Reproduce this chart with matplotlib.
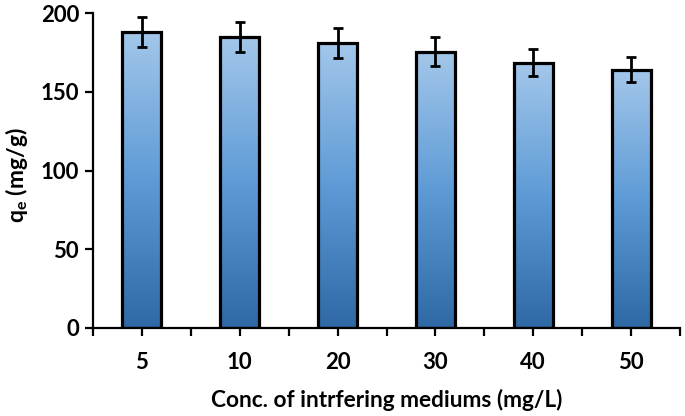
import numpy as np
import matplotlib
matplotlib.use("Agg")
import matplotlib.pyplot as plt
from matplotlib.colors import LinearSegmentedColormap
from matplotlib.ticker import FixedLocator

categories = ["5", "10", "20", "30", "40", "50"]
qe_values = [188, 184.5, 181, 175.5, 168.5, 164]
qe_errors = [9.5, 9.5, 9.5, 9, 8.5, 8]
y_ticks = [0, 50, 100, 150, 200]

plt.rcParams['font.family'] = ['Lato', 'DejaVu Sans']
plt.rcParams['font.weight'] = 'bold'
plt.rcParams['mathtext.fontset'] = 'custom'
plt.rcParams['mathtext.rm'] = 'Lato:bold'
plt.rcParams['mathtext.it'] = 'Lato:bold'
plt.rcParams['mathtext.bf'] = 'Lato:bold'
plt.rcParams['mathtext.default'] = 'rm'

fig = plt.figure(figsize=(6.85, 4.16), dpi=100)
ax = fig.add_axes([93/685, 1 - 328/416, (680 - 93)/685, (328 - 13)/416])

x = np.arange(len(categories))
bars = ax.bar(x, qe_values, width=0.4, facecolor='none', edgecolor='black',
              linewidth=2.3, zorder=3)

cmap = LinearSegmentedColormap.from_list('grad', ['#2e69a5', '#5e9bd6', '#a3c7ea'])
grad = np.linspace(0, 1, 256).reshape(-1, 1)
for b in bars:
    bx, by = b.get_x(), b.get_y()
    w, h = b.get_width(), b.get_height()
    im = ax.imshow(grad, cmap=cmap, origin='lower', aspect='auto',
                   extent=[bx, bx + w, by, by + h], zorder=2, interpolation='bicubic')
    im.set_clip_path(b)

ax.errorbar(x, qe_values, yerr=qe_errors, fmt='none', ecolor='black',
            elinewidth=2.0, capsize=3.3, capthick=2.0, zorder=4)

ax.set_xlim(-0.5, len(categories) - 0.5)
ax.set_ylim(0, 200)
ax.set_yticks(y_ticks)
ax.set_xticks(x)
ax.set_xticklabels(categories)
ax.xaxis.set_minor_locator(FixedLocator(np.arange(-0.5, len(categories), 1.0)))

for s in ['top', 'right']:
    ax.spines[s].set_visible(False)
for s in ['left', 'bottom']:
    ax.spines[s].set_linewidth(1.6)

ax.tick_params(axis='both', which='both', direction='out', width=1.6,
               labelsize=16, colors='black')
ax.tick_params(axis='x', which='both', length=6, pad=11)
ax.tick_params(axis='y', length=6, pad=4)

ax.set_xlabel('Conc. of intrfering mediums (mg/L)', fontsize=16.3, fontweight='bold', labelpad=12)
ax.set_ylabel(r'q$_{e}$ (mg/g)', fontsize=16.5, fontweight='bold')
ax.yaxis.set_label_coords(-0.108, 0.486)

fig.savefig('out.png', dpi=100)
